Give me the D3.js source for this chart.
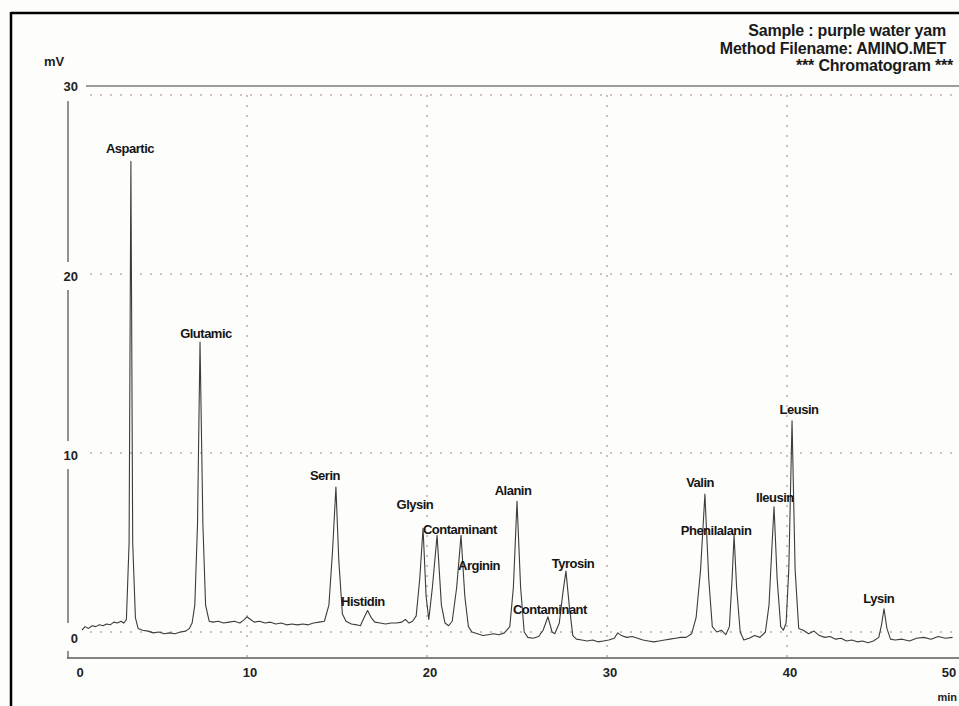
<!DOCTYPE html>
<html lang="en">
<head>
<meta charset="utf-8">
<title>Chromatogram - purple water yam</title>
<script src="https://cdn.jsdelivr.net/npm/d3@7"></script>
<style>
  body{ margin:0; background:#ffffff; }
  svg{ display:block; font-family:"Liberation Sans", Arial, sans-serif; }
  .peak-label{ font-weight:bold; font-size:13px; letter-spacing:-0.5px; fill:#151515; }
  .tick-label{ font-weight:bold; font-size:13px; fill:#222; }
  .header{ font-weight:bold; font-size:16px; letter-spacing:-0.2px; fill:#1a1a1a; }
  .grid{ stroke:#c7a9b1; stroke-width:1.6; stroke-dasharray:2 8; }
</style>
</head>
<body>
<div id="chart"></div>
<script>
// chromatogram trace: [time (min), signal (mV)]
var trace = [
  [0.83,0.1],[1.0,0.3],[1.2,0.2],[1.4,0.35],[1.6,0.3],[1.8,0.4],[2.0,0.35],[2.2,0.45],[2.4,0.4],[2.6,0.55],[2.8,0.5],[3.0,0.6],[3.15,0.5],
  [3.3,0.7],[3.45,5],[3.55,26.3],[3.65,5],[3.8,0.8],[3.95,0.2],[4.2,0.1],[4.5,0.05],[4.8,-0.05],[5.1,0.0],[5.4,-0.1],[5.7,-0.05],[6.0,-0.1],[6.3,0.0],[6.6,0.05],[6.8,0.2],
  [6.95,0.5],[7.1,1.5],[7.25,6],[7.39,16.2],[7.55,6],[7.7,1.5],[7.9,0.6],[8.1,0.55],[8.4,0.6],[8.7,0.5],[9.0,0.55],[9.3,0.6],[9.6,0.5],[9.8,0.65],[10.0,0.85],[10.2,0.7],[10.4,0.55],[10.7,0.6],[11.0,0.5],[11.3,0.55],[11.6,0.45],[11.9,0.5],[12.2,0.4],[12.5,0.45],[12.8,0.4],[13.1,0.45],[13.4,0.4],[13.7,0.5],[14.0,0.55],[14.3,0.6],
  [14.55,1.5],[14.75,4.5],[14.94,8.1],[15.1,4.0],[15.3,1.0],[15.5,0.6],[15.8,0.45],[16.1,0.4],[16.3,0.35],[16.5,0.8],[16.7,1.2],[16.9,0.8],[17.1,0.55],[17.4,0.5],[17.7,0.45],[18.0,0.5],[18.3,0.5],[18.6,0.55],[18.8,0.7],[19.0,0.5],[19.2,0.6],[19.4,0.9],
  [19.6,3],[19.78,5.8],[19.95,2.0],[20.1,0.7],[20.3,2.5],[20.56,5.4],[20.8,1.5],[21.0,0.5],[21.2,0.35],[21.4,0.6],[21.65,2.5],[21.89,5.4],[22.1,2.0],[22.3,0.3],[22.5,0.0],[22.8,-0.1],[23.1,-0.2],[23.4,-0.15],[23.7,-0.1],[24.0,-0.15],[24.3,-0.05],[24.6,0.3],
  [24.8,2.5],[25.0,7.3],[25.2,2.5],[25.4,0.0],[25.6,-0.3],[25.9,-0.35],[26.2,-0.25],[26.45,0.1],[26.72,0.85],[26.95,0.0],[27.1,-0.1],[27.35,0.5],[27.55,2.2],[27.72,3.4],[27.9,1.5],[28.1,-0.2],[28.3,-0.4],[28.6,-0.45],[28.9,-0.5],[29.2,-0.45],[29.5,-0.55],[29.8,-0.5],[30.1,-0.45],[30.4,-0.35],[30.6,-0.05],[30.8,-0.2],[31.1,-0.3],[31.4,-0.25],[31.7,-0.35],[32.0,-0.45],[32.3,-0.5],[32.6,-0.55],[32.9,-0.5],[33.2,-0.45],[33.5,-0.4],[33.8,-0.35],[34.1,-0.3],[34.4,-0.3],[34.7,-0.1],
  [34.95,0.8],[35.2,3.5],[35.44,7.7],[35.65,3],[35.85,0.3],[36.1,0.0],[36.35,0.1],[36.6,-0.15],[36.8,0.3],[36.95,3],[37.06,5.4],[37.2,2.5],[37.4,0.0],[37.6,-0.45],[37.9,-0.35],[38.2,-0.2],[38.5,-0.3],[38.8,0.0],[39.0,1.5],[39.15,4.5],[39.28,7.0],[39.45,3.0],[39.65,0.3],[39.8,0.1],[39.95,0.5],[40.1,3.5],[40.28,11.8],[40.45,3.5],[40.65,0.2],[40.9,0.1],[41.2,-0.1],[41.5,0.05],[41.8,-0.2],[42.1,-0.3],[42.4,-0.25],[42.7,-0.4],[43.0,-0.35],[43.3,-0.5],[43.6,-0.45],[43.9,-0.55],[44.2,-0.5],[44.5,-0.6],[44.8,-0.5],[45.1,-0.3],
  [45.25,0.4],[45.39,1.3],[45.55,0.2],[45.75,-0.4],[46.0,-0.45],[46.4,-0.4],[46.8,-0.5],[47.2,-0.35],[47.6,-0.3],[48.0,-0.4],[48.4,-0.25],[48.8,-0.35],[49.2,-0.3]
];

// peak names and where their labels sit (time, mV)
var peakNames = ["Aspartic","Glutamic","Serin","Histidin","Glysin","Contaminant","Arginin","Alanin","Contaminant","Tyrosin","Valin","Phenilalanin","Ileusin","Leusin","Lysin"];
var labelTime = [3.5, 7.72, 14.33, 16.44, 19.33, 21.83, 22.89, 24.78, 26.83, 28.11, 35.17, 36.06, 39.33, 40.67, 45.1];
var labelMV = [27.0, 16.7, 8.77, 1.68, 7.1, 5.75, 3.69, 7.93, 1.28, 3.85, 8.38, 5.7, 7.54, 12.46, 1.9];

var yTicks = [0, 10, 20, 30];
var xTicks = [0, 10, 20, 30, 40, 50];
var gridX = [10, 20, 30, 40];

var headerLines = ["Sample : purple water yam", "Method Filename: AMINO.MET", "*** Chromatogram ***"];

var width = 959, height = 706;

var svg = d3.select("#chart").append("svg")
  .attr("width", width)
  .attr("height", height);

svg.append("rect").attr("width", width).attr("height", height).attr("fill", "#fdfdfb");

//scales
var x = d3.scaleLinear().domain([0, 50]).range([67, 967]);
var y = d3.scaleLinear().domain([0, 30]).range([632, 95]);

//outer frame (cropped box: left and top edges only)
svg.append("line").attr("x1", 11).attr("x2", 11).attr("y1", 12).attr("y2", height).attr("stroke", "#000").attr("stroke-width", 2.5);
svg.append("line").attr("x1", 11).attr("x2", width).attr("y1", 13).attr("y2", 13).attr("stroke", "#000").attr("stroke-width", 2.5);

//header text
svg.selectAll(".header")
  .data(headerLines)
  .enter()
  .append("text")
  .attr("class", "header")
  .attr("x", function(d, i){ return i == 2 ? 953 : 946; })
  .attr("y", function(d, i){ return 36 + i * 17.5; })
  .attr("text-anchor", "end")
  .text(function(d){ return d; });

//dotted gridlines
svg.selectAll(".hgrid")
  .data(yTicks)
  .enter()
  .append("line")
  .attr("class", "grid")
  .attr("x1", 90).attr("x2", width)
  .attr("y1", function(d){ return y(d); })
  .attr("y2", function(d){ return y(d); });

svg.selectAll(".vgrid")
  .data(gridX)
  .enter()
  .append("line")
  .attr("class", "grid")
  .attr("x1", function(d){ return x(d); })
  .attr("x2", function(d){ return x(d); })
  .attr("y1", y(30)).attr("y2", 660);

//top solid line
svg.append("line").attr("x1", 86).attr("x2", width).attr("y1", 86).attr("y2", 86)
  .attr("stroke", "#7d7d7d").attr("stroke-width", 1.5);

//y axis: line broken around the tick labels
function labelY(v){
  if(v == 30) return 86;
  return y(v) + (v == 0 ? 6 : 2);
}
var ySegs = [[labelY(30) + 15, labelY(20) - 14], [labelY(20) + 14, labelY(10) - 14], [labelY(10) + 14, labelY(0) - 15], [labelY(0) + 13, 658]];
svg.selectAll(".yseg")
  .data(ySegs)
  .enter()
  .append("line")
  .attr("x1", 68).attr("x2", 68)
  .attr("y1", function(d){ return d[0]; })
  .attr("y2", function(d){ return d[1]; })
  .attr("stroke", "#6d6d6d").attr("stroke-width", 1.5);

svg.selectAll(".ylab")
  .data(yTicks)
  .enter()
  .append("text")
  .attr("class", "tick-label")
  .attr("x", 78)
  .attr("y", function(d){ return labelY(d); })
  .attr("dy", "0.35em")
  .attr("text-anchor", "end")
  .text(function(d){ return d; });

svg.append("text").attr("class", "tick-label").attr("x", 44).attr("y", 61).attr("dy", "0.35em").text("mV");

//x axis
svg.append("line").attr("x1", 67).attr("x2", width).attr("y1", 658).attr("y2", 658)
  .attr("stroke", "#5a5a5a").attr("stroke-width", 1.5);

svg.selectAll(".xlab")
  .data(xTicks)
  .enter()
  .append("text")
  .attr("class", "tick-label")
  .attr("x", function(d){
    if(d == 0) return x(d) + 13;
    if(d == 50) return width - 10;   // keep the last label inside the frame
    return x(d) + 3;
  })
  .attr("y", 672)
  .attr("dy", "0.35em")
  .attr("text-anchor", "middle")
  .text(function(d){ return d; });

svg.append("text").attr("class", "tick-label").attr("x", 957).attr("y", 697).attr("dy", "0.35em")
  .attr("text-anchor", "end").style("font-size", "11px").text("min");

//the chromatogram trace
var line = d3.line()
  .x(function(d){ return x(d[0]); })
  .y(function(d){ return y(d[1]); });

svg.append("path")
  .datum(trace)
  .attr("d", line)
  .attr("fill", "none")
  .attr("stroke", "#3c3c3c")
  .attr("stroke-width", 1.1)
  .attr("stroke-linejoin", "round");

//peak labels
svg.selectAll(".peak-label")
  .data(peakNames)
  .enter()
  .append("text")
  .attr("class", "peak-label")
  .attr("x", function(d, i){ return x(labelTime[i]); })
  .attr("y", function(d, i){ return y(labelMV[i]); })
  .attr("dy", "0.35em")
  .attr("text-anchor", "middle")
  .text(function(d){ return d; });
</script>
</body>
</html>
